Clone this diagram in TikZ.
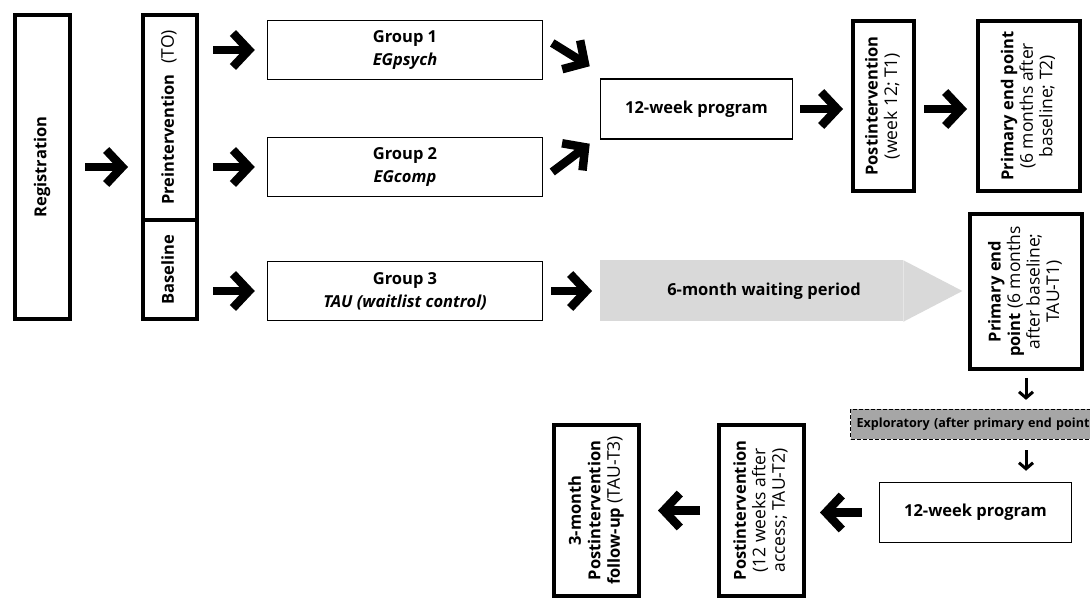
\documentclass[tikz,border=0pt]{standalone}
\usepackage{fontspec}
\usepackage{graphicx}
\setmainfont{Open Sans}
\usetikzlibrary{arrows.meta,calc}
\definecolor{waitgray}{HTML}{D9D9D9}
\definecolor{explgray}{HTML}{A6A6A6}
\newcommand{\rottext}[1]{\rotatebox{90}{\begin{tabular}{@{}c@{}}#1\end{tabular}}}
\newcommand{\rg}[1]{{\fontsize{17.5}{19.5}\selectfont #1}}
\begin{document}
\begin{tikzpicture}[x=1pt,y=-1pt,
  thinbox/.style={draw, line width=1.5pt, inner sep=0pt, align=center, font=\fontsize{16.5}{23}\selectfont},
  thickbox/.style={draw, line width=4pt, inner sep=0pt, font=\fontsize{16.5}{19.5}\selectfont},
  bigarrow/.style={line width=8.5pt, -{Straight Barb[length=16pt, width=34pt, sharp]}},
  smallarrow/.style={line width=3pt, -{Straight Barb[length=6pt, width=14pt, sharp]}},
]
\useasboundingbox (0,0) rectangle (1090,601);
\fill[white] (0,0) rectangle (1090,601);

% left column
\node[thickbox, minimum width=55pt, minimum height=304pt] (reg) at (42.5,167) {\rottext{\textbf{Registration}}};
\node[thickbox, minimum width=54pt, minimum height=205pt] (pre) at (170,117.5) {\rottext{\textbf{Preintervention}\hspace{0.4em} \rg{(TO)}}};
\node[thickbox, minimum width=54pt, minimum height=99pt] (base) at (170,269.5) {\rottext{\textbf{Baseline}}};

% groups
\node[thinbox, minimum width=275pt, minimum height=59pt] (g1) at (405,50) {\textbf{Group 1}\\\textbf{\textit{EGpsych}}};
\node[thinbox, minimum width=275pt, minimum height=59pt] (g2) at (405,167) {\textbf{Group 2}\\\textbf{\textit{EGcomp}}};
\node[thinbox, minimum width=275pt, minimum height=59pt] (g3) at (405,291) {\textbf{Group 3}\\\textbf{\textit{TAU (waitlist control)}}};

% program and waiting
\node[thinbox, minimum width=192pt, minimum height=60pt] (prog) at (696.5,109) {\textbf{12-week program}};
\node[fill=waitgray, inner sep=0pt, minimum width=303pt, minimum height=61pt, anchor=west] (wait) at (600,291) {};
\fill[waitgray] (wait.north east) -- ($(wait.east)+(59,0)$) -- (wait.south east) -- cycle;
\node[font=\fontsize{16.5}{18}\selectfont\bfseries] (waittxt) at (764,291) {6-month waiting period};

% right column
\node[thickbox, minimum width=61pt, minimum height=170pt] (post1) at (883.5,106) {\rottext{\textbf{Postintervention}\\\rg{(week 12; T1)}}};
\node[thickbox, minimum width=102pt, minimum height=170pt] (prim1) at (1029,106) {\rottext{\textbf{Primary end point}\\\rg{(6 months after}\\\rg{baseline; T2)}}};
\node[thickbox, minimum width=112pt, minimum height=155pt] (prim2) at (1026,291.5) {\rottext{\textbf{Primary end}\\\textbf{point} \rg{(6 months}\\\rg{after baseline;}\\\rg{TAU-T1)}}};
\node[draw, dashed, dash pattern=on 4pt off 2pt, line width=1.3pt, fill=explgray, inner sep=0pt, inner xsep=6pt, minimum height=30pt, text width=270pt, align=left, anchor=west, font=\fontsize{12.6}{14}\selectfont\bfseries] (expl) at (850,424.5) {Exploratory (after primary end point};
\node[thinbox, minimum width=192pt, minimum height=60pt] (prog2) at (975.5,512.5) {\textbf{12-week program}};
\node[thickbox, minimum width=85pt, minimum height=171pt] (post2) at (761.5,510.5) {\rottext{\textbf{Postintervention}\\\rg{(12 weeks after}\\\rg{access; TAU-T2)}}};
\node[thickbox, minimum width=85pt, minimum height=171pt] (fu) at (596.5,510.5) {\rottext{\textbf{3-month}\\\textbf{Postintervention}\\\textbf{follow-up} \rg{(TAU-T3)}}};

% arrows
\draw[bigarrow, shorten <=13pt, shorten >=13pt] (reg.east) -- (reg.east -| pre.west);
\draw[bigarrow, shorten <=14pt, shorten >=12pt] (pre.east |- g1.west) -- (g1.west);
\draw[bigarrow, shorten <=14pt, shorten >=12pt] (pre.east |- g2.west) -- (g2.west);
\draw[bigarrow, shorten <=14pt, shorten >=12pt] (base.east |- g3.west) -- (g3.west);
\draw[bigarrow] ($(g1.east)+(9,-7)$) -- ($(prog.north west)+(-10,-12)$);
\draw[bigarrow] ($(g2.east)+(9,5)$) -- ($(prog.south west)+(-10,4)$);
\draw[bigarrow, shorten <=7pt, shorten >=8pt] (prog.east) -- (prog.east -| post1.west);
\draw[bigarrow, shorten <=8pt, shorten >=9pt] (prog.east -| post1.east) -- (prog.east -| prim1.west);
\draw[bigarrow, shorten <=8pt, shorten >=8pt] (g3.east) -- (wait.west);
\draw[smallarrow, shorten <=7pt, shorten >=9pt] (prim2.south) -- (prim2.south |- expl.north);
\draw[smallarrow, shorten <=10pt, shorten >=11pt] (prim2.south |- expl.south) -- (prim2.south |- prog2.north);
\draw[bigarrow, shorten <=17pt, shorten >=14pt] (prog2.west) -- (prog2.west -| post2.east);
\draw[bigarrow, shorten <=17pt, shorten >=17pt] (post2.west) -- (post2.west -| fu.east);
\end{tikzpicture}
\end{document}
